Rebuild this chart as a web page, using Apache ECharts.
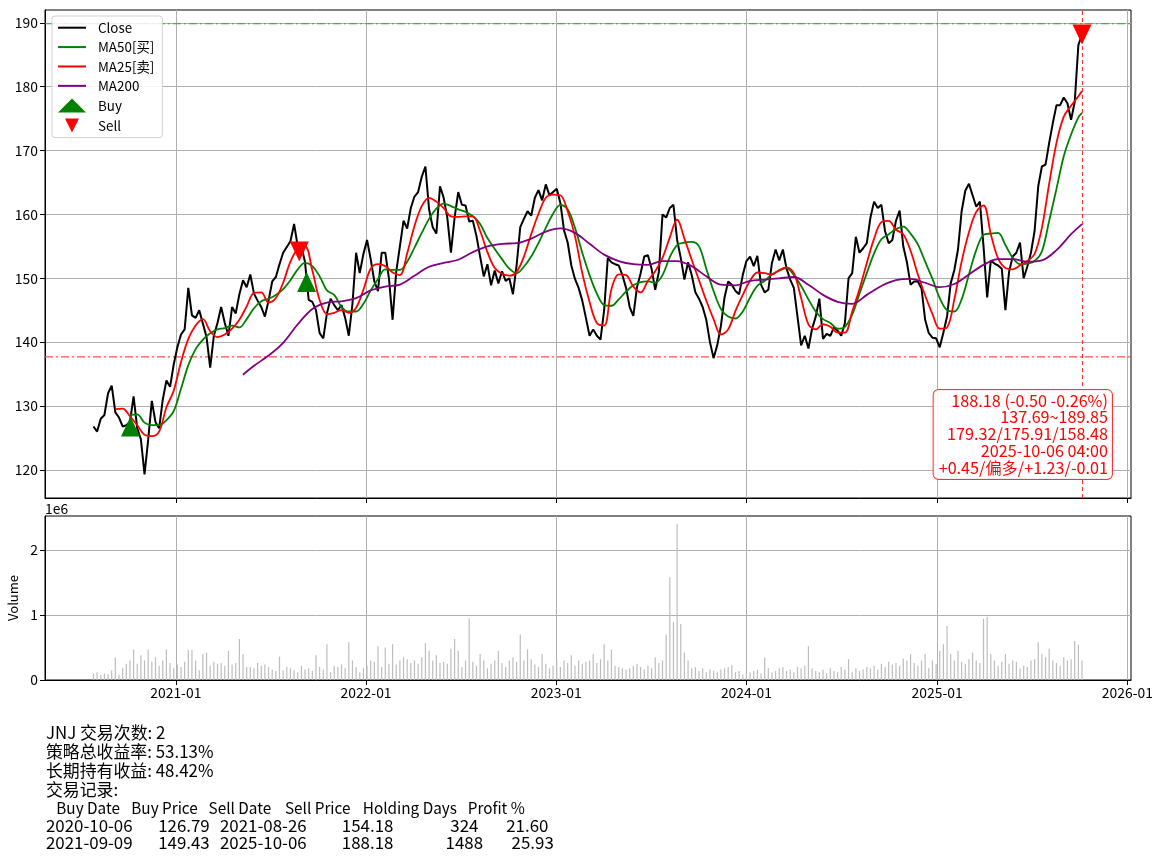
<!DOCTYPE html>
<html><head><meta charset="utf-8">
<script src="https://cdn.jsdelivr.net/npm/echarts@6/dist/echarts.min.js"></script>
<style>html,body{margin:0;padding:0;background:#fff}#c{width:1162px;height:860px}</style>
</head><body><div id="c"></div>
<script>
// ---------- data (weekly samples) ----------
const startDate = '2020-07-27';   // first weekly sample, one sample every 7 days
const close = [
126.8,126.0,128.0,128.6,132.0,133.2,129.0,128.2,126.8,127.0,
127.5,131.5,126.5,124.8,119.3,124.7,130.8,127.5,126.5,131.0,
134.0,133.0,136.5,139.2,141.2,142.0,148.5,144.2,143.8,145.0,
142.9,140.8,136.0,141.0,143.0,145.5,143.0,141.0,145.5,144.5,
147.5,149.7,148.6,150.6,147.6,146.5,145.5,144.0,146.5,149.5,
150.2,152.2,154.0,154.9,155.8,158.5,155.0,155.0,152.5,146.6,
146.3,145.0,141.4,140.6,144.5,146.8,145.8,145.0,145.8,143.8,
141.0,146.0,154.0,150.8,153.8,156.0,153.0,149.5,148.0,154.0,
154.0,150.0,143.5,151.0,155.0,159.0,157.8,161.0,162.8,163.5,
165.9,167.5,160.8,158.0,157.0,164.4,162.6,159.5,154.0,159.5,
163.5,161.5,161.4,158.9,159.0,156.6,153.4,150.3,152.2,148.9,
151.2,149.2,151.1,149.6,150.0,147.5,152.0,158.0,159.3,160.5,
159.8,162.6,163.8,162.2,164.7,163.0,163.5,164.0,161.8,157.5,
155.6,152.0,149.9,148.5,146.5,143.8,141.0,142.0,141.0,140.4,
145.0,153.2,152.5,152.2,152.0,150.5,148.5,145.5,144.1,148.6,
150.8,153.4,153.6,151.5,148.2,151.0,160.0,159.5,161.0,161.5,
156.0,153.2,149.8,152.5,150.5,147.8,146.8,145.5,143.5,140.0,
137.5,139.5,142.5,147.0,149.5,149.0,148.0,147.5,150.5,152.7,
153.4,151.9,153.5,149.0,147.8,148.2,152.4,154.5,152.8,154.5,
151.5,149.8,148.5,144.0,139.5,141.0,139.0,142.1,144.0,146.8,
140.5,141.3,141.0,142.3,141.8,141.0,143.0,150.0,150.8,156.5,
154.0,154.7,155.5,159.5,162.0,161.0,161.5,157.4,155.5,156.0,
159.0,160.6,155.0,152.5,149.0,149.5,149.5,148.4,143.5,141.4,
140.7,140.6,139.2,141.5,144.0,149.2,151.3,154.5,160.5,163.7,
164.8,163.0,161.2,162.0,155.0,147.0,152.8,152.3,152.0,151.5,
145.0,151.0,153.4,154.0,155.6,150.0,151.8,154.0,157.4,164.4,
167.5,167.8,171.2,174.3,177.1,177.1,178.3,177.4,174.8,177.6,
186.5,188.18];

// MA25: every 2nd week from week 6 to week 270, then the last week
const ma25FirstWeek = 6, ma25Step = 2;
const ma25 = [
129.5,129.6,128.4,127.0,125.5,125.3,126.0,129.8,132.4,136.9,
140.5,142.6,143.6,141.7,140.8,141.2,142.1,143.5,145.6,147.7,
147.8,146.2,146.9,149.3,152.6,154.6,155.0,151.2,146.6,144.4,
144.6,145.0,144.6,145.4,148.2,151.5,152.2,151.9,150.9,150.5,
153.9,158.2,161.3,162.6,162.0,161.0,159.7,159.6,159.7,159.7,
157.4,154.1,151.6,150.7,150.4,151.0,153.4,156.9,160.1,162.6,
163.1,163.0,160.5,156.6,150.8,146.3,143.0,142.6,148.3,150.6,
150.5,148.7,147.8,149.6,151.1,153.2,156.4,159.2,156.2,152.9,
149.7,146.5,143.6,141.2,142.0,144.9,147.4,149.6,150.9,150.8,
150.6,151.3,151.7,150.8,146.9,142.8,142.0,142.8,142.4,141.5,
141.5,144.8,148.3,152.4,156.2,158.8,159.0,157.6,156.9,154.3,
150.6,147.3,144.4,142.1,142.3,146.7,152.6,157.2,160.4,161.4,
156.9,153.1,151.6,151.4,152.0,152.7,153.8,157.9,164.8,171.2,
175.3,177.0,178.5,179.32];

// MA50: every 2nd week from week 10 to week 270, then the last week
const ma50FirstWeek = 10, ma50Step = 2;
const ma50 = [
128.6,128.7,127.4,127.0,127.0,127.8,129.2,132.7,136.4,138.9,
140.4,141.4,142.0,142.2,142.6,142.3,143.6,145.3,146.4,146.8,
147.4,148.3,149.7,151.4,152.4,151.9,150.3,148.1,147.4,145.5,
144.8,144.8,146.0,148.1,149.9,151.4,151.3,151.3,152.6,154.8,
157.1,159.3,160.9,161.7,161.3,160.8,160.4,159.7,158.5,156.3,
154.6,153.0,151.5,150.8,151.8,153.4,155.5,157.9,160.1,161.5,
160.8,157.9,154.0,150.5,147.6,145.8,145.7,146.7,147.9,148.9,
149.4,149.5,149.3,150.5,153.3,155.2,155.6,155.7,155.0,151.5,
148.0,145.2,144.0,143.7,144.8,147.0,148.8,149.6,150.6,151.2,
151.6,150.5,148.8,146.7,144.8,143.6,143.0,142.1,142.4,144.3,
147.6,150.8,153.9,156.1,156.9,157.7,158.1,157.0,155.3,152.6,
149.9,146.9,145.0,144.8,146.7,150.6,154.4,156.8,157.0,157.1,
155.2,153.2,152.2,152.3,152.7,154.2,159.0,164.0,169.1,172.5,
175.2,175.91];

// MA200: week 41, then every 4th week from week 44 to 268, then the last week
const ma200Weeks0 = [41];
const ma200FirstStepWeek = 44, ma200Step = 4;
const ma200 = [
134.9,136.3,137.9,139.9,142.8,145.2,146.2,146.4,146.9,148.1,
148.7,149.0,150.4,151.8,152.4,152.9,154.1,155.0,155.4,155.5,
156.2,157.3,157.8,157.1,155.4,153.7,152.7,152.2,152.1,152.7,
152.7,151.9,150.3,149.0,148.9,149.6,149.8,150.0,150.2,149.0,
147.4,146.3,146.0,147.4,148.8,149.7,149.9,149.3,148.6,149.1,
150.6,152.1,153.0,153.0,152.6,152.8,154.4,156.9,158.48];

// weekly volume, in units of 1e6
const volume = [
0.10,0.12,0.08,0.10,0.09,0.15,0.35,0.08,0.18,0.25,
0.30,0.47,0.25,0.38,0.30,0.47,0.28,0.35,0.22,0.30,
0.47,0.26,0.18,0.24,0.20,0.28,0.46,0.46,0.30,0.15,
0.40,0.42,0.22,0.28,0.25,0.26,0.22,0.45,0.24,0.26,
0.63,0.40,0.20,0.20,0.18,0.26,0.22,0.24,0.20,0.16,
0.14,0.36,0.15,0.20,0.18,0.15,0.12,0.22,0.16,0.18,
0.14,0.38,0.20,0.16,0.55,0.12,0.22,0.20,0.24,0.18,
0.58,0.30,0.20,0.12,0.18,0.22,0.30,0.28,0.52,0.20,
0.50,0.25,0.55,0.24,0.30,0.35,0.32,0.26,0.30,0.25,
0.35,0.57,0.45,0.30,0.38,0.26,0.28,0.25,0.48,0.63,
0.45,0.20,0.30,0.95,0.28,0.22,0.40,0.30,0.18,0.25,
0.30,0.45,0.26,0.20,0.30,0.35,0.28,0.70,0.30,0.47,
0.32,0.24,0.20,0.40,0.25,0.18,0.22,0.28,0.20,0.30,
0.26,0.38,0.22,0.30,0.25,0.28,0.30,0.40,0.26,0.32,
0.55,0.30,0.47,0.22,0.20,0.18,0.16,0.18,0.22,0.25,
0.20,0.16,0.22,0.18,0.35,0.26,0.30,0.70,1.58,0.89,
2.40,0.86,0.42,0.30,0.18,0.20,0.14,0.18,0.12,0.16,
0.14,0.12,0.16,0.18,0.20,0.23,0.12,0.14,0.08,0.10,
0.12,0.14,0.16,0.10,0.35,0.18,0.12,0.14,0.18,0.20,
0.14,0.16,0.12,0.20,0.18,0.22,0.52,0.18,0.14,0.12,
0.16,0.10,0.18,0.14,0.12,0.20,0.16,0.32,0.12,0.18,
0.14,0.16,0.20,0.18,0.22,0.16,0.25,0.20,0.28,0.24,
0.26,0.22,0.33,0.30,0.40,0.26,0.22,0.30,0.40,0.18,
0.30,0.25,0.45,0.55,0.83,0.40,0.30,0.45,0.28,0.25,
0.32,0.42,0.30,0.26,0.94,0.97,0.40,0.30,0.22,0.28,
0.40,0.25,0.30,0.28,0.18,0.22,0.20,0.30,0.32,0.58,
0.40,0.35,0.48,0.30,0.26,0.22,0.35,0.30,0.32,0.60,
0.54,0.30];

const buyDates = ['2020-10-06', '2021-09-09'];
const buyPrices = [126.79, 149.43];
const sellDates = ['2021-08-26', '2025-10-06'];
const sellPrices = [154.18, 188.18];
const rangeHigh = 189.85, rangeLow = 137.69;
const lastDate = '2025-10-06';

const priceTicks = [120, 130, 140, 150, 160, 170, 180, 190];
const volumeTicks = [0, 1, 2];
const xTickLabels = ['2021-01', '2022-01', '2023-01', '2024-01', '2025-01', '2026-01'];

const infoLines = ['188.18 (-0.50 -0.26%)', '137.69~189.85', '179.32/175.91/158.48', '2025-10-06 04:00', '+0.45/偏多/+1.23/-0.01'];
const summaryLines = ['JNJ 交易次数: 2', '策略总收益率: 53.13%', '长期持有收益: 48.42%', '交易记录:'];
const tableHeader = ['Buy Date', 'Buy Price', 'Sell Date', 'Sell Price', 'Holding Days', 'Profit %'];
const tableRows = [
  ['2020-10-06', '126.79', '2021-08-26', '154.18', '324', '21.60'],
  ['2021-09-09', '149.43', '2025-10-06', '188.18', '1488', '25.93']
];

// ---------- layout ----------
const FONT = '"Noto Sans CJK SC", "Liberation Sans", sans-serif';
const DAY = 86400000;
const t0 = Date.parse(startDate);
const weekT = i => t0 + i * 7 * DAY;
const xMin = Date.parse('2020-04-25'), xMax = Date.parse('2026-01-08');
const xTickMs = xTickLabels.map(s => Date.parse(s + '-01'));
const xLabel = v => { const k = xTickMs.findIndex(t => Math.abs(t - v) < DAY); return k >= 0 ? xTickLabels[k] : ''; };

const closeData = close.map((v, i) => [weekT(i), v]);
const ma25Data = ma25.map((v, k) => [weekT(k === ma25.length - 1 ? close.length - 1 : ma25FirstWeek + k * ma25Step), v]);
const ma50Data = ma50.map((v, k) => [weekT(k === ma50.length - 1 ? close.length - 1 : ma50FirstWeek + k * ma50Step), v]);
const ma200Data = ma200.map((v, k) => {
  let w;
  if (k < ma200Weeks0.length) w = ma200Weeks0[k];
  else if (k === ma200.length - 1) w = close.length - 1;
  else w = ma200FirstStepWeek + (k - ma200Weeks0.length) * ma200Step;
  return [weekT(w), v];
});
const volData = volume.map((v, i) => [weekT(i), v]);
const buyData = buyDates.map((d, k) => [Date.parse(d), buyPrices[k]]);
const sellData = sellDates.map((d, k) => [Date.parse(d), sellPrices[k]]);
const highLine = [[xMin, rangeHigh], [xMax, rangeHigh]];
const lowLine = [[xMin, rangeLow], [xMax, rangeLow]];

const gridLine = { show: true, lineStyle: { color: '#b0b0b0', width: 1 } };
const axisBlack = { show: true, onZero: false, lineStyle: { color: '#000', width: 1 } };
const SELL_ICON = 'path://M0,0L20,0L10,20Z';
const DASHDOT = [8, 3, 2, 3];

const graphics = [];
graphics.push({ type: 'text', x: 45, y: 502, style: { text: '1e6', fontSize: 13.9, fontFamily: FONT, fill: '#000' } });
graphics.push({ type: 'text', x: 1112, y: 390, z: 100, style: {
  text: infoLines.join('\n'), align: 'right', verticalAlign: 'top', fill: '#ff0000',
  fontSize: 16.2, fontFamily: FONT, lineHeight: 16.8,
  backgroundColor: 'rgba(255,255,255,0.9)', borderColor: '#ff3333', borderWidth: 1, borderRadius: 5,
  padding: [2, 4, 3, 5]
}});
const lineY = [732.5, 752, 771, 790, 808.5, 825.5, 843];
summaryLines.forEach((s, k) => graphics.push({ type: 'text', x: 45.9, y: lineY[k],
  style: { text: s, fontSize: 16.9, fontFamily: FONT, fill: '#000', verticalAlign: 'middle' } }));
const headerX = [56.3, 131.3, 208.6, 285, 362.8, 467.7];
tableHeader.forEach((h, j) => graphics.push({ type: 'text', x: headerX[j], y: lineY[4],
  style: { text: h, fontSize: 15.3, fontFamily: FONT, fill: '#000', verticalAlign: 'middle', align: 'left' } }));
const rowLayout = [
  [[45.9, 'left'], [209.7, 'right'], [220, 'left'], [393.4, 'right'], [478.4, 'right'], [548.4, 'right']],
  [[45.9, 'left'], [209.7, 'right'], [220, 'left'], [393.4, 'right'], [483, 'right'], [553.8, 'right']]
];
tableRows.forEach((row, r) => row.forEach((cell, j) => graphics.push({ type: 'text', x: rowLayout[r][j][0], y: lineY[5 + r],
  style: { text: cell, fontSize: 16.9, fontFamily: FONT, fill: '#000', verticalAlign: 'middle', align: rowLayout[r][j][1] } })));

const chart = echarts.init(document.getElementById('c'), null, { renderer: 'canvas' });
chart.setOption({
  animation: false,
  backgroundColor: '#fff',
  textStyle: { fontFamily: FONT },
  grid: [
    { left: 45, right: 31, top: 10, height: 488, show: true, borderColor: '#000', borderWidth: 1, containLabel: false, outerBoundsMode: 'none' },
    { left: 45, right: 31, top: 516, height: 164, show: true, borderColor: '#000', borderWidth: 1, containLabel: false, outerBoundsMode: 'none' }
  ],
  legend: {
    orient: 'vertical', left: 52, top: 16, padding: [5, 8, 5, 5], itemGap: 6, itemWidth: 28, itemHeight: 14,
    backgroundColor: 'rgba(255,255,255,0.85)', borderColor: '#d0d0d0', borderWidth: 1, borderRadius: 3,
    selectedMode: false, itemStyle: { opacity: 0 },
    textStyle: { fontSize: 13.4, color: '#000', fontFamily: FONT, padding: [0, 0, 0, 7] },
    data: ['Close', 'MA50[买]', 'MA25[卖]', 'MA200',
      { name: 'Buy', icon: 'triangle', itemStyle: { opacity: 1, color: '#008000' } },
      { name: 'Sell', icon: SELL_ICON, itemStyle: { opacity: 1, color: '#ff0000' } }]
  },
  xAxis: [
    { type: 'value', gridIndex: 0, min: xMin, max: xMax, axisLine: axisBlack,
      axisTick: { show: true, customValues: xTickMs, length: 5, inside: false, lineStyle: { color: '#000' } },
      axisLabel: { show: false, customValues: xTickMs }, splitLine: gridLine },
    { type: 'value', gridIndex: 1, min: xMin, max: xMax, axisLine: axisBlack,
      axisTick: { show: true, customValues: xTickMs, length: 5, lineStyle: { color: '#000' } },
      axisLabel: { show: true, customValues: xTickMs, formatter: xLabel, fontSize: 13.9, color: '#000', margin: 6, fontFamily: FONT },
      splitLine: gridLine }
  ],
  yAxis: [
    { type: 'value', gridIndex: 0, min: 115.6, max: 192, axisLine: axisBlack,
      axisTick: { show: true, customValues: priceTicks, length: 5, lineStyle: { color: '#000' } },
      axisLabel: { customValues: priceTicks, fontSize: 13.9, color: '#000', margin: 7, fontFamily: FONT },
      splitLine: gridLine },
    { type: 'value', gridIndex: 1, min: 0, max: 2.52, axisLine: axisBlack,
      name: 'Volume', nameLocation: 'middle', nameGap: 24, nameRotate: 90,
      nameTextStyle: { fontSize: 13, color: '#000', fontFamily: FONT },
      axisTick: { show: true, customValues: volumeTicks, length: 5, lineStyle: { color: '#000' } },
      axisLabel: { customValues: volumeTicks, fontSize: 13.9, color: '#000', margin: 7, fontFamily: FONT },
      splitLine: gridLine }
  ],
  series: [
    { name: 'Close', type: 'line', xAxisIndex: 0, yAxisIndex: 0, data: closeData, symbol: 'none',
      color: '#000', lineStyle: { color: '#000', width: 2 }, z: 2,
      markLine: { silent: true, symbol: ['none', 'none'], label: { show: false }, animation: false,
        lineStyle: { color: '#ff3030', type: [4, 3], width: 1.1 },
        data: [ { xAxis: Date.parse(lastDate) } ] } },
    { name: 'rangeHigh', type: 'line', xAxisIndex: 0, yAxisIndex: 0, data: highLine, symbol: 'none', silent: true,
      color: '#33aa33', lineStyle: { color: '#33aa33', type: DASHDOT, width: 1.1 }, z: 1 },
    { name: 'rangeLow', type: 'line', xAxisIndex: 0, yAxisIndex: 0, data: lowLine, symbol: 'none', silent: true,
      color: '#ff4d4d', lineStyle: { color: '#ff4d4d', type: DASHDOT, width: 1.1 }, z: 1 },
    { name: 'MA50[买]', type: 'line', xAxisIndex: 0, yAxisIndex: 0, data: ma50Data, symbol: 'none', smooth: 0.35,
      color: '#008000', lineStyle: { color: '#008000', width: 1.8 }, z: 3 },
    { name: 'MA25[卖]', type: 'line', xAxisIndex: 0, yAxisIndex: 0, data: ma25Data, symbol: 'none', smooth: 0.35,
      color: '#ff0000', lineStyle: { color: '#ff0000', width: 1.8 }, z: 4 },
    { name: 'MA200', type: 'line', xAxisIndex: 0, yAxisIndex: 0, data: ma200Data, symbol: 'none', smooth: 0.35,
      color: '#800080', lineStyle: { color: '#800080', width: 1.8 }, z: 5 },
    { name: 'Buy', type: 'scatter', xAxisIndex: 0, yAxisIndex: 0, data: buyData, symbol: 'triangle', symbolSize: [19, 20],
      itemStyle: { color: '#008000', opacity: 1 }, color: '#008000', z: 10 },
    { name: 'Sell', type: 'scatter', xAxisIndex: 0, yAxisIndex: 0, data: sellData, symbol: SELL_ICON, symbolSize: [19, 20],
      itemStyle: { color: '#ff0000', opacity: 1 }, color: '#ff0000', z: 10 },
    { name: 'Volume', type: 'custom', xAxisIndex: 1, yAxisIndex: 1, data: volData, encode: { x: 0, y: 1 },
      renderItem: (params, api) => {
        const top = api.coord([api.value(0), api.value(1)]);
        const base = api.coord([api.value(0), 0]);
        return { type: 'rect', shape: { x: top[0] - 0.6, y: top[1], width: 1.2, height: base[1] - top[1] },
                 style: { fill: '#bdbdbd' } };
      } }
  ],
  graphic: graphics
});
</script>
</body></html>
